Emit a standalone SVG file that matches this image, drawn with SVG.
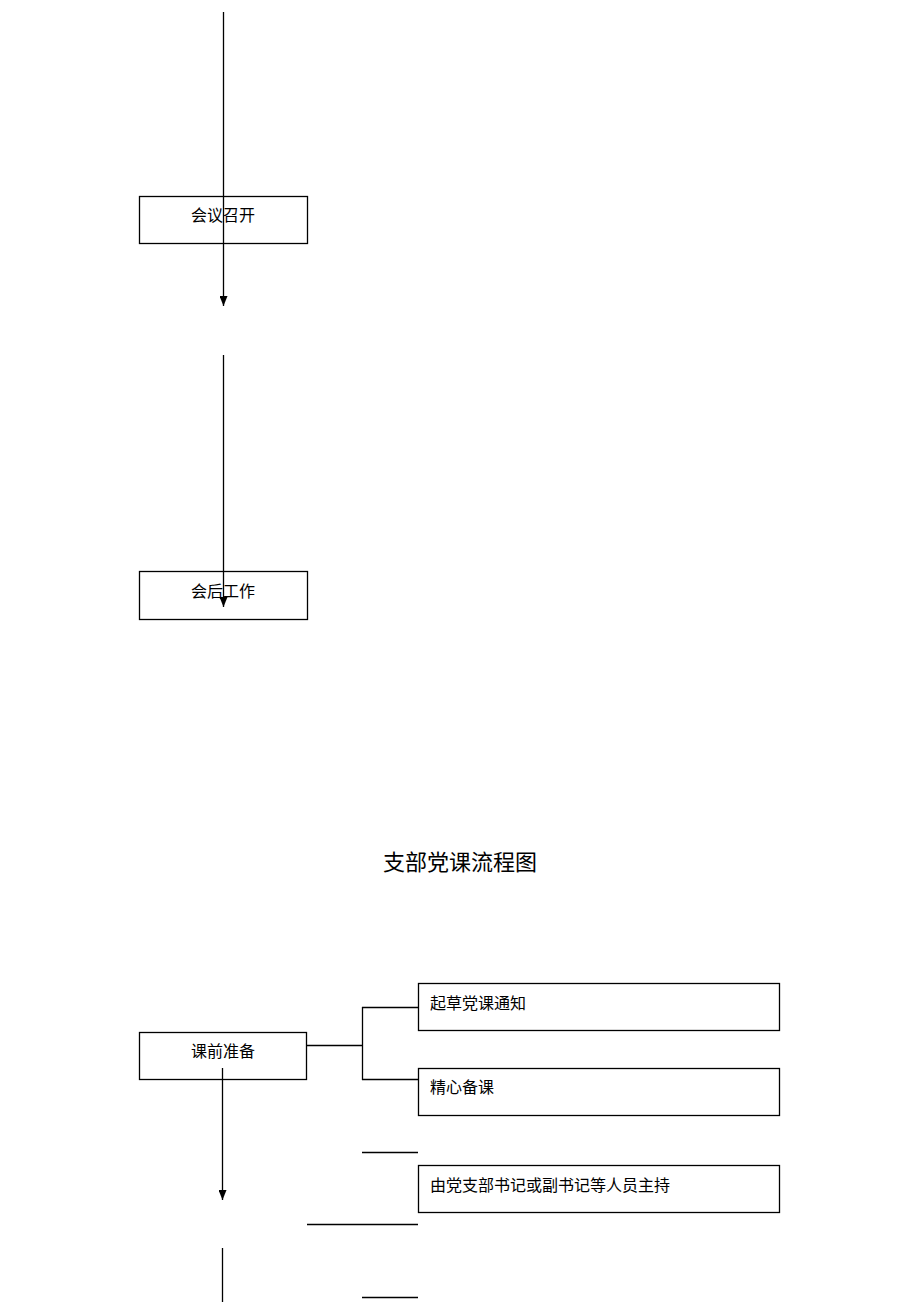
<svg xmlns="http://www.w3.org/2000/svg" width="920" height="1302" viewBox="0 0 920 1302">
<style>
.box{fill:#fff;stroke:#000;stroke-width:1.3}
.t{font-family:"Liberation Sans","Noto Sans CJK SC",sans-serif;font-size:16px;fill:#000}
.ln{stroke:#000;stroke-width:1.3;fill:none}
</style>
<defs>
<marker id="ah" markerWidth="10" markerHeight="8" refX="10" refY="4" orient="auto" markerUnits="userSpaceOnUse" viewBox="0 0 10 8">
<path d="M0,0 L10,4 L0,8 Z" fill="#000"/>
</marker>
</defs>
<rect width="920" height="1302" fill="#fff"/>
<g id="n1"><rect class="box" x="139.5" y="196.5" width="168" height="47"/><text class="t" x="223" y="221" text-anchor="middle">会议召开</text></g>
<g id="n2"><rect class="box" x="139.5" y="571.5" width="168" height="48"/><text class="t" x="223" y="597" text-anchor="middle">会后工作</text></g>
<g id="title"><text x="460" y="870" text-anchor="middle" style="font-family:'Liberation Sans','Noto Sans CJK SC',sans-serif;font-size:22px">支部党课流程图</text></g>
<g id="n3"><rect class="box" x="139.5" y="1032.5" width="167" height="47"/><text class="t" x="223" y="1057" text-anchor="middle">课前准备</text></g>
<g id="n4"><rect class="box" x="418.5" y="983.5" width="361" height="47"/><text class="t" x="430" y="1009">起草党课通知</text></g>
<g id="n5"><rect class="box" x="418.5" y="1068.5" width="361" height="47"/><text class="t" x="430" y="1093">精心备课</text></g>
<g id="n6"><rect class="box" x="418.5" y="1165.5" width="361" height="47"/><text class="t" x="430" y="1191">由党支部书记或副书记等人员主持</text></g>
<g id="connectors">
<path class="ln" d="M223.5,12 V306" marker-end="url(#ah)"/>
<path class="ln" d="M223.5,355 V607" marker-end="url(#ah)"/>
<path class="ln" d="M307,1045.5 H362.5 M362.5,1007 V1080 M362,1007.5 H418 M362,1079.5 H418"/>
<path class="ln" d="M362,1152.5 H418"/>
<path class="ln" d="M307,1224.5 H418"/>
<path class="ln" d="M362,1297.5 H418"/>
<path class="ln" d="M222.5,1068 V1200" marker-end="url(#ah)"/>
<path class="ln" d="M222.5,1248 V1302"/>
</g>
</svg>
